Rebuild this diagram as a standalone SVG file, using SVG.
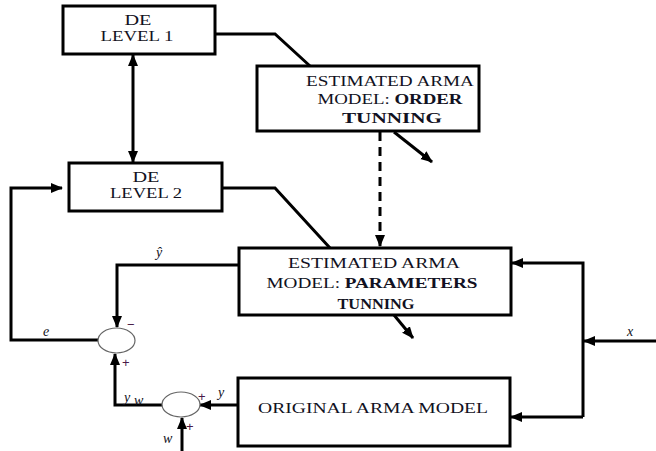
<svg xmlns="http://www.w3.org/2000/svg" width="656" height="451" viewBox="0 0 656 451">
<style>
.box{fill:#fff;stroke:#000;stroke-width:3}
.t{font-family:"Liberation Serif","Times New Roman",serif;font-size:14.5px;fill:#111122;text-anchor:middle}
.b{font-weight:bold}
.ln{fill:none;stroke:#000;stroke-width:3}
.sum{fill:#fff;stroke:#666;stroke-width:1.2}
.lab{font-family:"Liberation Serif","Times New Roman",serif;font-style:italic;font-size:14px;fill:#111122}
.sg{font-family:"Liberation Sans",Arial,sans-serif;font-size:13px;fill:#4a1a4a}
</style>
<defs>
<marker id="ah" markerUnits="userSpaceOnUse" markerWidth="12" markerHeight="12" viewBox="0 0 12 12" refX="11" refY="6" orient="auto-start-reverse">
<path d="M0,1 L12,6 L0,11 Z" fill="#000"/>
</marker>
</defs>
<g id="connectors">
<polyline class="ln" points="215,34 275,34 310,66"/>
<line class="ln" x1="133" y1="55" x2="133" y2="162" marker-start="url(#ah)" marker-end="url(#ah)"/>
<polyline class="ln" points="222,188 275,188 330,248"/>
<line class="ln" x1="380" y1="132" x2="380" y2="246" stroke-dasharray="9,6" marker-end="url(#ah)"/>
<line class="ln" x1="394" y1="132" x2="432" y2="162" marker-end="url(#ah)"/>
<line class="ln" x1="394" y1="315" x2="413" y2="338" marker-end="url(#ah)"/>
<polyline class="ln" points="98,340 11,340 11,188 62,188" marker-end="url(#ah)"/>
<polyline class="ln" points="239,265 117,265 117,327" marker-end="url(#ah)"/>
<polyline class="ln" points="163,405 115,405 115,354" marker-end="url(#ah)"/>
<line class="ln" x1="238" y1="405" x2="200" y2="405" marker-end="url(#ah)"/>
<line class="ln" x1="182" y1="451" x2="182" y2="418" marker-end="url(#ah)"/>
<polyline class="ln" points="583,417 583,263 512,263" marker-end="url(#ah)"/>
<line class="ln" x1="583" y1="417" x2="511" y2="417" marker-end="url(#ah)"/>
<line class="ln" x1="656" y1="341" x2="584" y2="341" marker-end="url(#ah)"/>
</g>
<g id="de1">
<rect class="box" x="63" y="6" width="152" height="48"/>
<text class="t" x="138" y="25" textLength="27" lengthAdjust="spacingAndGlyphs">DE</text>
<text class="t" x="137" y="41" textLength="73" lengthAdjust="spacingAndGlyphs">LEVEL 1</text>
</g>
<g id="de2">
<rect class="box" x="69" y="163" width="153" height="48"/>
<text class="t" x="146" y="182" textLength="27" lengthAdjust="spacingAndGlyphs">DE</text>
<text class="t" x="146" y="198" textLength="72" lengthAdjust="spacingAndGlyphs">LEVEL 2</text>
</g>
<g id="order">
<rect class="box" x="257" y="66" width="222" height="65"/>
<text class="t" x="390" y="86" textLength="168" lengthAdjust="spacingAndGlyphs">ESTIMATED ARMA</text>
<text class="t" x="390" y="104" textLength="145" lengthAdjust="spacingAndGlyphs">MODEL: <tspan class="b">ORDER</tspan></text>
<text class="t b" x="392" y="123" font-size="16" textLength="100" lengthAdjust="spacingAndGlyphs">TUNNING</text>
</g>
<g id="params">
<rect class="box" x="239" y="248" width="272" height="67"/>
<text class="t" x="374" y="268" textLength="172" lengthAdjust="spacingAndGlyphs">ESTIMATED ARMA</text>
<text class="t" x="372" y="288" textLength="211" lengthAdjust="spacingAndGlyphs">MODEL: <tspan class="b">PARAMETERS</tspan></text>
<text class="t b" x="376" y="309" textLength="77" lengthAdjust="spacingAndGlyphs">TUNNING</text>
</g>
<g id="original">
<rect class="box" x="238" y="378" width="272" height="68"/>
<text class="t" x="373" y="413" textLength="230" lengthAdjust="spacingAndGlyphs">ORIGINAL  ARMA MODEL</text>
</g>
<g id="sum1">
<ellipse class="sum" cx="116.5" cy="340.5" rx="18.5" ry="12.5"/>
<text class="sg" x="127" y="329">−</text>
<text class="sg" x="122" y="367">+</text>
</g>
<g id="sum2">
<ellipse class="sum" cx="181" cy="404.5" rx="19" ry="12.5"/>
<text class="sg" x="198" y="401">+</text>
<text class="sg" x="186" y="431">+</text>
</g>
<g id="labels">
<text class="lab" x="156" y="257">ŷ</text>
<text class="lab" x="43" y="336">e</text>
<text class="lab" x="124" y="402">y</text>
<text class="lab" x="134" y="405" font-size="8">w</text>
<text class="lab" x="218" y="397">y</text>
<text class="lab" x="163" y="443" font-size="15">w</text>
<text class="lab" x="627" y="336">x</text>
</g>
</svg>
